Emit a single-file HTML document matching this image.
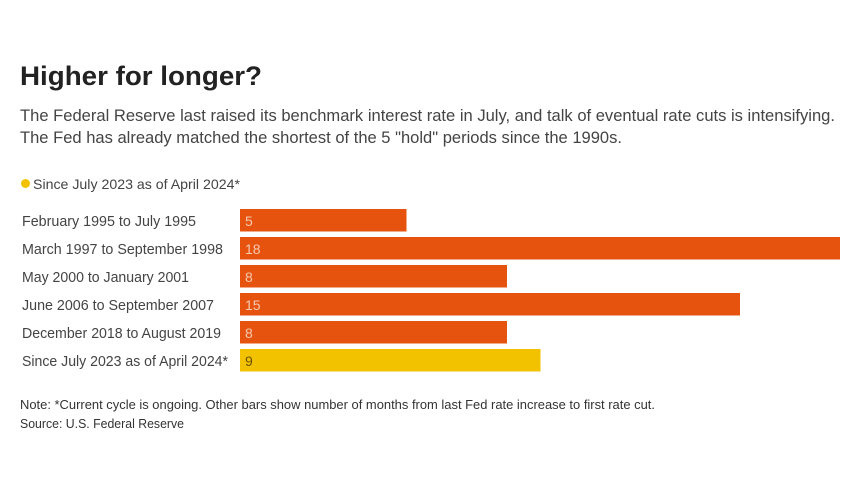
<!DOCTYPE html>
<html><head><meta charset="utf-8"><style>
html,body{margin:0;padding:0;background:#fff;}
svg{display:block;font-family:"Liberation Sans",sans-serif;}
</style></head><body>
<svg width="857" height="482" viewBox="0 0 857 482">
<text x="20" y="85" font-size="27" font-weight="bold" fill="#222" textLength="242" lengthAdjust="spacingAndGlyphs">Higher for longer?</text>
<text x="20" y="121" font-size="17" fill="#444" textLength="815" lengthAdjust="spacingAndGlyphs">The Federal Reserve last raised its benchmark interest rate in July, and talk of eventual rate cuts is intensifying.</text>
<text x="20" y="143" font-size="17" fill="#444" textLength="602" lengthAdjust="spacingAndGlyphs">The Fed has already matched the shortest of the 5 "hold" periods since the 1990s.</text>
<circle cx="25.5" cy="183.5" r="4.5" fill="#f2c200"/>
<text x="33" y="189" font-size="14" fill="#444" textLength="207" lengthAdjust="spacingAndGlyphs">Since July 2023 as of April 2024*</text>
<g font-size="14.5" fill="#444">
<text x="22" y="226" textLength="174" lengthAdjust="spacingAndGlyphs">February 1995 to July 1995</text>
<text x="22" y="254" textLength="201" lengthAdjust="spacingAndGlyphs">March 1997 to September 1998</text>
<text x="22" y="282" textLength="167" lengthAdjust="spacingAndGlyphs">May 2000 to January 2001</text>
<text x="22" y="310" textLength="192" lengthAdjust="spacingAndGlyphs">June 2006 to September 2007</text>
<text x="22" y="338" textLength="199" lengthAdjust="spacingAndGlyphs">December 2018 to August 2019</text>
<text x="22" y="366" textLength="206" lengthAdjust="spacingAndGlyphs">Since July 2023 as of April 2024*</text>
</g>
<g fill="#e6530f">
<rect x="240" y="209" width="166.5" height="22.5"/>
<rect x="240" y="237" width="600" height="22.5"/>
<rect x="240" y="265" width="267" height="22.5"/>
<rect x="240" y="293" width="500" height="22.5"/>
<rect x="240" y="321" width="267" height="22.5"/>
</g>
<rect x="240" y="349" width="300.5" height="22.5" fill="#f2c200"/>
<g font-size="14" fill="#f7c9b0">
<text x="245" y="226">5</text>
<text x="245" y="254">18</text>
<text x="245" y="282">8</text>
<text x="245" y="310">15</text>
<text x="245" y="338">8</text>
</g>
<text x="245" y="366" font-size="14" fill="#6b5300">9</text>
<text x="20" y="409" font-size="13" fill="#333" textLength="635" lengthAdjust="spacingAndGlyphs">Note: *Current cycle is ongoing. Other bars show number of months from last Fed rate increase to first rate cut.</text>
<text x="20" y="428" font-size="13" fill="#333" textLength="164" lengthAdjust="spacingAndGlyphs">Source: U.S. Federal Reserve</text>
</svg>
</body></html>
